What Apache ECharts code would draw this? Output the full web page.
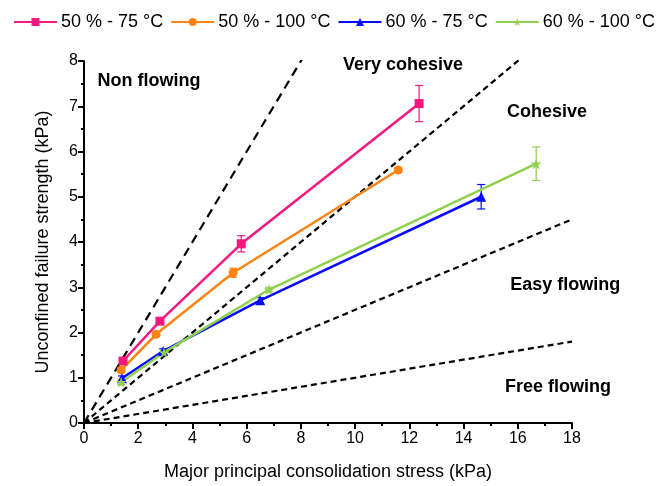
<!DOCTYPE html>
<html>
<head>
<meta charset="utf-8">
<script src="https://cdn.jsdelivr.net/npm/echarts@6/dist/echarts.min.js"></script>
<style>
  html, body { margin: 0; padding: 0; background: #fff; }
  #main { width: 662px; height: 486px; }
</style>
</head>
<body>
<div id="main"></div>
<script>
// measured points [stress, strength]
var s50_75 = [[1.44, 1.37], [2.8, 2.25], [5.8, 3.96], [12.36, 7.06]];
var s50_100 = [[1.37, 1.17], [2.66, 1.96], [5.5, 3.32], [11.59, 5.59]];
var s60_75 = [[1.4, 0.99], [2.92, 1.59], [6.5, 2.71], [14.65, 5.0]];
var s60_100 = [[1.37, 0.9], [2.95, 1.56], [6.83, 2.95], [16.68, 5.73]];
// error bar half-widths
var e50_75 = [0.05, 0.05, 0.18, 0.4];
var e50_100 = [0.05, 0.05, 0.1, 0.05];
var e60_75 = [0.05, 0.05, 0.06, 0.27];
var e60_100 = [0.05, 0.05, 0.05, 0.37];
// flow function boundaries ffc
var ffcLines = [1, 2, 4, 10];
var regionNames = ['Non flowing', 'Very cohesive', 'Cohesive', 'Easy flowing', 'Free flowing'];
var regionPos = [[0.5, 7.56], [9.55, 7.91], [15.6, 6.87], [15.72, 3.06], [15.53, 0.79]];

var myChart = echarts.init(document.getElementById('main'));

function errSeries(pts, errs, color) {
    return {
        type: 'custom',
        data: pts.map(function (p, i) { return [p[0], p[1] - errs[i], p[1] + errs[i]]; }),
        renderItem: function (params, api) {
            var lo = api.coord([api.value(0), api.value(1)]);
            var hi = api.coord([api.value(0), api.value(2)]);
            var w = 4;
            var st = { stroke: color, lineWidth: 1.2 };
            return {
                type: 'group',
                children: [
                    { type: 'line', shape: { x1: lo[0], y1: lo[1], x2: hi[0], y2: hi[1] }, style: st },
                    { type: 'line', shape: { x1: lo[0] - w, y1: lo[1], x2: lo[0] + w, y2: lo[1] }, style: st },
                    { type: 'line', shape: { x1: hi[0] - w, y1: hi[1], x2: hi[0] + w, y2: hi[1] }, style: st }
                ]
            };
        },
        silent: true,
        z: 3
    };
}

var starPath = 'path://M50,0 L61,35 L98,35 L68,57 L79,91 L50,70 L21,91 L32,57 L2,35 L39,35 Z';

var series = [];
ffcLines.forEach(function (f, i) {
    series.push({
        type: 'line',
        data: [[0, 0], [18, 18 / f]],
        symbol: 'none',
        clip: true,
        silent: true,
        lineStyle: { color: '#000', width: 2.2, type: i === 0 ? [9, 6] : [6, 4] },
        z: 1
    });
});
var defs = [
    { name: '50 % - 75 \u00b0C', data: s50_75, err: e50_75, color: '#f5187f', symbol: 'rect', size: 9 },
    { name: '50 % - 100 \u00b0C', data: s50_100, err: e50_100, color: '#ff8214', symbol: 'circle', size: 9 },
    { name: '60 % - 75 \u00b0C', data: s60_75, err: e60_75, color: '#0a0aff', symbol: 'triangle', size: 10 },
    { name: '60 % - 100 \u00b0C', data: s60_100, err: e60_100, color: '#8fd14f', symbol: starPath, size: 11 }
];
defs.forEach(function (d) {
    series.push({
        name: d.name,
        type: 'line',
        data: d.data,
        symbol: d.symbol,
        symbolSize: d.size,
        showSymbol: true,
        itemStyle: { color: d.color },
        lineStyle: { color: d.color, width: 2.5 },
        z: 4
    });
    series.push(errSeries(d.data, d.err, d.color));
});
series.push({
    type: 'scatter',
    data: regionPos.map(function (p, i) { return { value: p, name: regionNames[i] }; }),
    symbolSize: 0,
    silent: true,
    itemStyle: { opacity: 1 },
    label: {
        show: true,
        position: 'right',
        distance: 0,
        formatter: '{b}',
        color: '#000',
        opacity: 1,
        fontSize: 18,
        fontWeight: 'bold',
        fontFamily: 'Liberation Sans'
    },
    z: 5
});

myChart.setOption({
    animation: false,
    textStyle: { fontFamily: 'Liberation Sans' },
    legend: {
        top: 8,
        left: 8,
        itemWidth: 43,
        itemHeight: 10,
        itemGap: 7,
        textStyle: { fontSize: 18, color: '#000', padding: [0, 0, 0, -1] },
        data: defs.map(function (d) { return d.name; })
    },
    grid: { left: 84, right: 90, top: 61, bottom: 62 },
    xAxis: {
        type: 'value',
        min: 0, max: 18, interval: 2,
        name: 'Major principal consolidation stress (kPa)',
        nameLocation: 'middle',
        nameGap: 40,
        nameTextStyle: { fontSize: 18, color: '#000' },
        axisLine: { lineStyle: { color: '#000', width: 2 } },
        axisTick: { length: 6, lineStyle: { width: 2 } },
        minorTick: { show: true, splitNumber: 2, length: 3, lineStyle: { color: '#000', width: 2 } },
        axisLabel: { fontSize: 16, color: '#000', margin: 8 },
        splitLine: { show: false }
    },
    yAxis: {
        type: 'value',
        min: 0, max: 8, interval: 1,
        name: 'Unconfined failure strength (kPa)',
        nameLocation: 'middle',
        nameGap: 32,
        nameTextStyle: { fontSize: 18, color: '#000' },
        axisLine: { show: true, lineStyle: { color: '#000', width: 2 } },
        axisTick: { show: true, length: 6, lineStyle: { width: 2 } },
        minorTick: { show: true, splitNumber: 2, length: 3, lineStyle: { color: '#000', width: 2 } },
        axisLabel: { fontSize: 16, color: '#000', margin: 6 },
        splitLine: { show: false }
    },
    series: series
});
</script>
</body>
</html>
